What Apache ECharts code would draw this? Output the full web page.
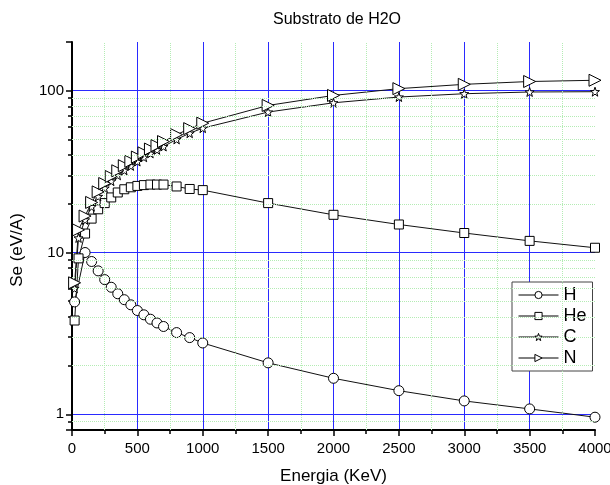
<!DOCTYPE html>
<html>
<head>
    <meta charset="utf-8">
    <title>Substrato de H2O</title>
    <script src="https://cdn.jsdelivr.net/npm/echarts@6/dist/echarts.min.js"></script>
</head>
<body style="margin:0">
    <div id="main" style="width: 610px; height:485px;"></div>

    <script type="text/javascript">
        // energia (keV) para H e para He/C/N
        var energiaH = [20, 100, 150, 200, 250, 300, 350, 400, 450, 500, 550, 600, 650, 700, 800, 900, 1000, 1500, 2000, 2500, 3000, 3500, 4000];
        var energia = [20, 50, 100, 150, 200, 250, 300, 350, 400, 450, 500, 550, 600, 650, 700, 800, 900, 1000, 1500, 2000, 2500, 3000, 3500, 4000];

        // Se (eV/A)
        var seH = [4.95, 10.0, 8.8, 7.7, 6.8, 6.1, 5.56, 5.11, 4.75, 4.38, 4.12, 3.87, 3.67, 3.49, 3.2, 2.98, 2.76, 2.08, 1.67, 1.4, 1.21, 1.08, 0.96];
        var seHe = [3.8, 9.2, 13.1, 16.2, 18.5, 20.2, 21.9, 23.5, 24.6, 25.3, 25.8, 26.1, 26.3, 26.3, 26.3, 25.6, 24.7, 24.3, 20.2, 17.1, 14.9, 13.2, 11.8, 10.7];
        var seC = [6.0, 12.3, 15.9, 19.2, 22.2, 25.0, 27.6, 30.0, 32.2, 34.3, 36.5, 38.8, 41.0, 43.1, 45.2, 50.0, 54.6, 58.7, 73.8, 84.2, 91.4, 95.8, 98.2, 98.6];
        var seN = [6.5, 13.8, 16.8, 20.4, 23.7, 26.7, 29.5, 32.0, 34.4, 36.6, 38.9, 41.3, 43.6, 45.8, 48.5, 53.5, 58.3, 63.0, 81.1, 93.5, 103, 109.5, 114, 116];

        // linhas de grade menores (pontilhadas) e ticks menores do eixo log
        var gradeMenorX = [250, 750, 1250, 1750, 2250, 2750, 3250, 3750];
        var gradeMenorY = [0.9, 2, 3, 4, 5, 6, 7, 8, 9, 20, 30, 40, 50, 60, 70, 80, 90];

        var fonte = 'Liberation Sans';
        var estrela = 'path://M0,-10 L2.35,-3.24 L9.51,-3.09 L3.8,1.24 L5.88,8.09 L0,4 L-5.88,8.09 L-3.8,1.24 L-9.51,-3.09 L-2.35,-3.24 Z';

        function pares(xs, ys) {
            var out = [];
            for (var i = 0; i < xs.length; i++) out.push([xs[i], ys[i]]);
            return out;
        }

        function serie(nome, xs, ys, simbolo, tam, rot) {
            return {
                name: nome,
                type: 'line',
                data: pares(xs, ys),
                symbol: simbolo,
                symbolSize: tam,
                symbolRotate: rot || 0,
                showAllSymbol: true,
                lineStyle: { color: '#111', width: 1, type: 'solid' },
                itemStyle: { color: '#fff', borderColor: '#000', borderWidth: 1 },
                z: 3
            };
        }

        var linhaGrade = { color: '#2a2aff', width: 1 };
        var linhaMenor = { color: '#b4ecb4', width: 1, type: 'dotted' };

        var myChart = echarts.init(document.getElementById('main'));

        var option = {
            animation: false,
            backgroundColor: '#fff',
            textStyle: { fontFamily: fonte },
            title: {
                text: 'Substrato de H2O',
                left: 332,
                top: 7,
                textAlign: 'center',
                textStyle: { fontFamily: fonte, fontSize: 16, fontWeight: 'normal', color: '#000' }
            },
            grid: { left: 72, right: 15, top: 42, bottom: 55, outerBoundsMode: 'none', containLabel: false },
            legend: {
                data: ['H', 'He', 'C', 'N'],
                orient: 'vertical',
                left: 512,
                top: 282,
                padding: [4, 6, 4, 6],
                itemGap: 3,
                itemWidth: 40,
                itemHeight: 9,
                backgroundColor: '#fff',
                borderColor: '#444',
                borderWidth: 1,
                borderRadius: 0,
                lineStyle: { color: '#000', width: 1, type: 'solid' },
                itemStyle: { color: '#fff', borderColor: '#000', borderWidth: 1 },
                textStyle: { fontFamily: fonte, fontSize: 18, color: '#000' }
            },
            xAxis: {
                type: 'value',
                name: 'Energia (KeV)',
                nameLocation: 'middle',
                nameGap: 38,
                nameTextStyle: { fontFamily: fonte, fontSize: 17, color: '#000' },
                min: 0,
                max: 4000,
                interval: 500,
                axisLine: { onZero: false, lineStyle: { color: '#000', width: 2 } },
                axisTick: { inside: false, length: 6, lineStyle: { color: '#000', width: 1.5 } },
                minorTick: { show: true, splitNumber: 2, length: 4, lineStyle: { color: '#000', width: 1.5 } },
                axisLabel: {
                    fontFamily: fonte, fontSize: 15, color: '#000', margin: 11,
                    formatter: function (v) { return String(v); }
                },
                splitLine: { show: true, showMinLine: false, showMaxLine: false, lineStyle: linhaGrade },
                minorSplitLine: { show: false }
            },
            yAxis: [{
                type: 'log',
                logBase: 10,
                name: 'Se (eV/A)',
                nameLocation: 'middle',
                nameGap: 46,
                nameTextStyle: { fontFamily: fonte, fontSize: 17, color: '#000', padding: [0, 28, 0, 0] },
                min: 0.8,
                max: 200,
                axisLine: { lineStyle: { color: '#000', width: 2 } },
                axisTick: { length: 6, lineStyle: { color: '#000', width: 1.5 } },
                axisLabel: {
                    fontFamily: fonte, fontSize: 15, color: '#000', margin: 8,
                    formatter: function (v) {
                        var l = Math.log10(v);
                        return Math.abs(l - Math.round(l)) < 1e-6 ? String(Math.round(v)) : '';
                    }
                },
                splitLine: { show: true, showMinLine: false, showMaxLine: false, lineStyle: linhaGrade },
                minorSplitLine: { show: false }
            }, {
                // eixo sobreposto só para os ticks menores
                type: 'log',
                logBase: 10,
                position: 'left',
                min: 0.8,
                max: 200,
                axisLine: { show: false },
                axisTick: { show: true, length: 4, customValues: gradeMenorY, lineStyle: { color: '#000', width: 1.5 } },
                axisLabel: { show: false },
                splitLine: { show: false }
            }],
            series: [
                serie('H', energiaH, seH, 'circle', 10),
                serie('He', energia, seHe, 'rect', 9),
                serie('C', energia, seC, estrela, 9),
                serie('N', energia, seN, 'triangle', 12, -90),
                {
                    name: 'grade',
                    type: 'line',
                    data: [],
                    silent: true,
                    z: 1,
                    markLine: {
                        silent: true,
                        symbol: 'none',
                        label: { show: false },
                        lineStyle: linhaMenor,
                        data: gradeMenorY.map(function (v) { return { yAxis: v }; })
                            .concat(gradeMenorX.map(function (v) { return { xAxis: v }; }))
                    }
                }
            ]
        };

        myChart.setOption(option);
    </script>
</body>
</html>
